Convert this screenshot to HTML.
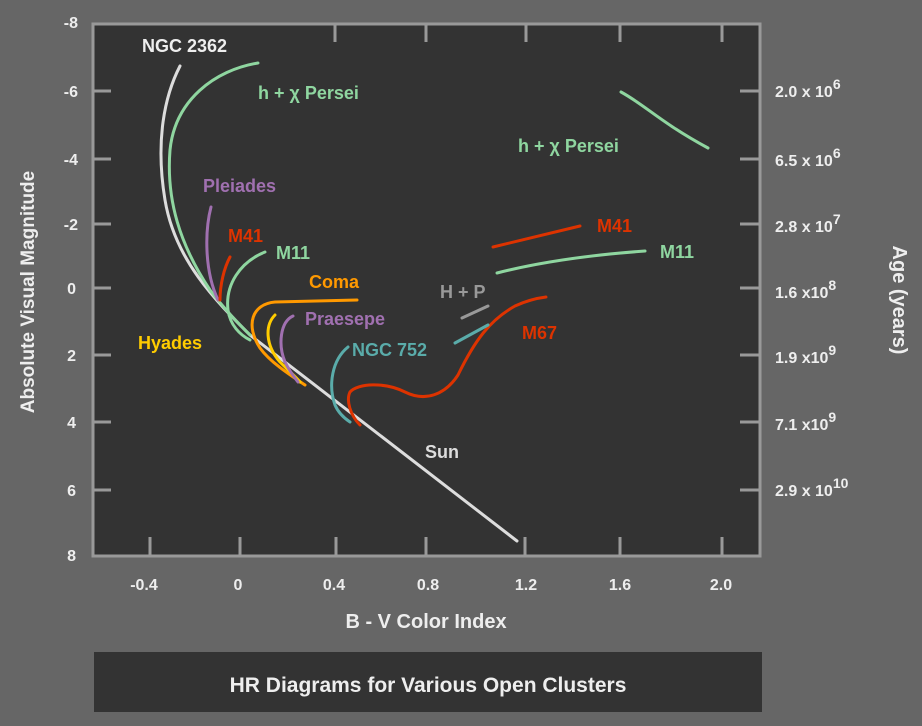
<!DOCTYPE html>
<html><head><style>
body{margin:0;background:#666;}
svg{display:block;font-family:"Liberation Sans",sans-serif;font-weight:bold;}
</style></head><body>
<svg width="922" height="726" viewBox="0 0 922 726">
<rect width="922" height="726" fill="#666"/>
<rect x="93" y="24" width="667" height="532" fill="#333" stroke="#999" stroke-width="3"/>
<g stroke="#999" stroke-width="3">
<line x1="335" y1="24" x2="335" y2="42"/><line x1="426" y1="24" x2="426" y2="42"/><line x1="526" y1="24" x2="526" y2="42"/><line x1="620" y1="24" x2="620" y2="42"/><line x1="722" y1="24" x2="722" y2="42"/>
<line x1="150" y1="556" x2="150" y2="537"/><line x1="240" y1="556" x2="240" y2="537"/><line x1="336" y1="556" x2="336" y2="537"/><line x1="426" y1="556" x2="426" y2="537"/><line x1="525" y1="556" x2="525" y2="537"/><line x1="620" y1="556" x2="620" y2="537"/><line x1="722" y1="556" x2="722" y2="537"/>
<line x1="93" y1="91" x2="111" y2="91"/><line x1="93" y1="159" x2="111" y2="159"/><line x1="93" y1="224" x2="111" y2="224"/><line x1="93" y1="288" x2="111" y2="288"/><line x1="93" y1="355" x2="111" y2="355"/><line x1="93" y1="422" x2="111" y2="422"/><line x1="93" y1="490" x2="111" y2="490"/>
<line x1="740" y1="91" x2="760" y2="91"/><line x1="740" y1="159" x2="760" y2="159"/><line x1="740" y1="224" x2="760" y2="224"/><line x1="740" y1="288" x2="760" y2="288"/><line x1="740" y1="355" x2="760" y2="355"/><line x1="740" y1="422" x2="760" y2="422"/><line x1="740" y1="490" x2="760" y2="490"/>
</g>
<g fill="#eee" font-size="16" text-anchor="end">
<text x="78" y="28">-8</text><text x="78" y="97">-6</text><text x="78" y="165">-4</text><text x="78" y="230">-2</text><text x="76" y="294">0</text><text x="76" y="361">2</text><text x="76" y="428">4</text><text x="76" y="496">6</text><text x="76" y="561">8</text>
</g>
<g fill="#eee" font-size="16" text-anchor="middle">
<text x="144" y="590">-0.4</text><text x="238" y="590">0</text><text x="334" y="590">0.4</text><text x="428" y="590">0.8</text><text x="526" y="590">1.2</text><text x="620" y="590">1.6</text><text x="721" y="590">2.0</text>
</g>
<text x="426" y="628" fill="#eee" font-size="20" text-anchor="middle">B - V Color Index</text>
<text transform="translate(34,292) rotate(-90)" fill="#eee" font-size="19" text-anchor="middle">Absolute Visual Magnitude</text>
<text transform="translate(893,300) rotate(90)" fill="#eee" font-size="20" text-anchor="middle">Age (years)</text>
<g fill="#eee" font-size="16">
<text x="775" y="97">2.0 x 10<tspan dy="-8" font-size="14">6</tspan></text>
<text x="775" y="166">6.5 x 10<tspan dy="-8" font-size="14">6</tspan></text>
<text x="775" y="232">2.8 x 10<tspan dy="-8" font-size="14">7</tspan></text>
<text x="775" y="298">1.6 x10<tspan dy="-8" font-size="14">8</tspan></text>
<text x="775" y="363">1.9 x10<tspan dy="-8" font-size="14">9</tspan></text>
<text x="775" y="430">7.1 x10<tspan dy="-8" font-size="14">9</tspan></text>
<text x="775" y="496">2.9 x 10<tspan dy="-8" font-size="14">10</tspan></text>
</g>
<rect x="94" y="652" width="668" height="60" fill="#333"/>
<text x="428" y="692" fill="#eee" font-size="21" text-anchor="middle">HR Diagrams for Various Open Clusters</text>
<g fill="none" stroke-width="3" stroke-linecap="round">
<path d="M180,66 C165,95 155,140 165,200 C175,260 215,300 250,335 L517,541" stroke="#ddd"/>
<path d="M258,63 C215,70 175,100 170,150 C166,200 180,245 210,290 C225,310 240,325 250,335" stroke="#8fd6a0"/>
<path d="M211,207 C205,230 204,270 218,300" stroke="#a070b0"/>
<path d="M230,257 C224,268 220,285 220,300" stroke="#dd3300"/>
<path d="M265,252 C240,262 225,285 228,310 C230,325 240,335 250,340" stroke="#8fd6a0"/>
<path d="M357,300 L275,302 C252,304 245,325 260,348 C270,362 290,375 305,385" stroke="#ff9900"/>
<path d="M275,315 C265,325 265,345 280,362 C290,372 297,378 300,382" stroke="#ffcc00"/>
<path d="M293,316 C280,322 278,345 285,362 C290,372 295,378 298,382" stroke="#a070b0"/>
<path d="M348,347 C332,360 328,385 335,405 C338,412 344,418 350,422" stroke="#5aacaa"/>
<path d="M360,425 C350,415 346,400 350,392 C358,383 385,382 405,392 C425,402 445,395 458,375 C475,340 490,320 515,306 C528,300 538,298 546,297" stroke="#dd3300"/>
<path d="M462,318 L488,306" stroke="#999"/>
<path d="M455,343 L488,325" stroke="#5aacaa"/>
<path d="M621,92 C645,105 660,122 708,148" stroke="#8fd6a0"/>
<path d="M493,247 L580,226" stroke="#dd3300"/>
<path d="M497,273 C540,262 590,255 645,251" stroke="#8fd6a0"/>
</g>
<g font-size="18">
<text x="142" y="52" fill="#eee">NGC 2362</text>
<text x="258" y="99" fill="#8fd6a0">h + χ Persei</text>
<text x="203" y="192" fill="#a070b0">Pleiades</text>
<text x="228" y="242" fill="#dd3300">M41</text>
<text x="276" y="259" fill="#8fd6a0">M11</text>
<text x="309" y="288" fill="#ff9900">Coma</text>
<text x="305" y="325" fill="#a070b0">Praesepe</text>
<text x="138" y="349" fill="#ffcc00">Hyades</text>
<text x="352" y="356" fill="#5aacaa">NGC 752</text>
<text x="440" y="298" fill="#999">H + P</text>
<text x="522" y="339" fill="#dd3300">M67</text>
<text x="425" y="458" fill="#ddd">Sun</text>
<text x="518" y="152" fill="#8fd6a0">h + χ Persei</text>
<text x="597" y="232" fill="#dd3300">M41</text>
<text x="660" y="258" fill="#8fd6a0">M11</text>
</g>
</svg>
</body></html>
